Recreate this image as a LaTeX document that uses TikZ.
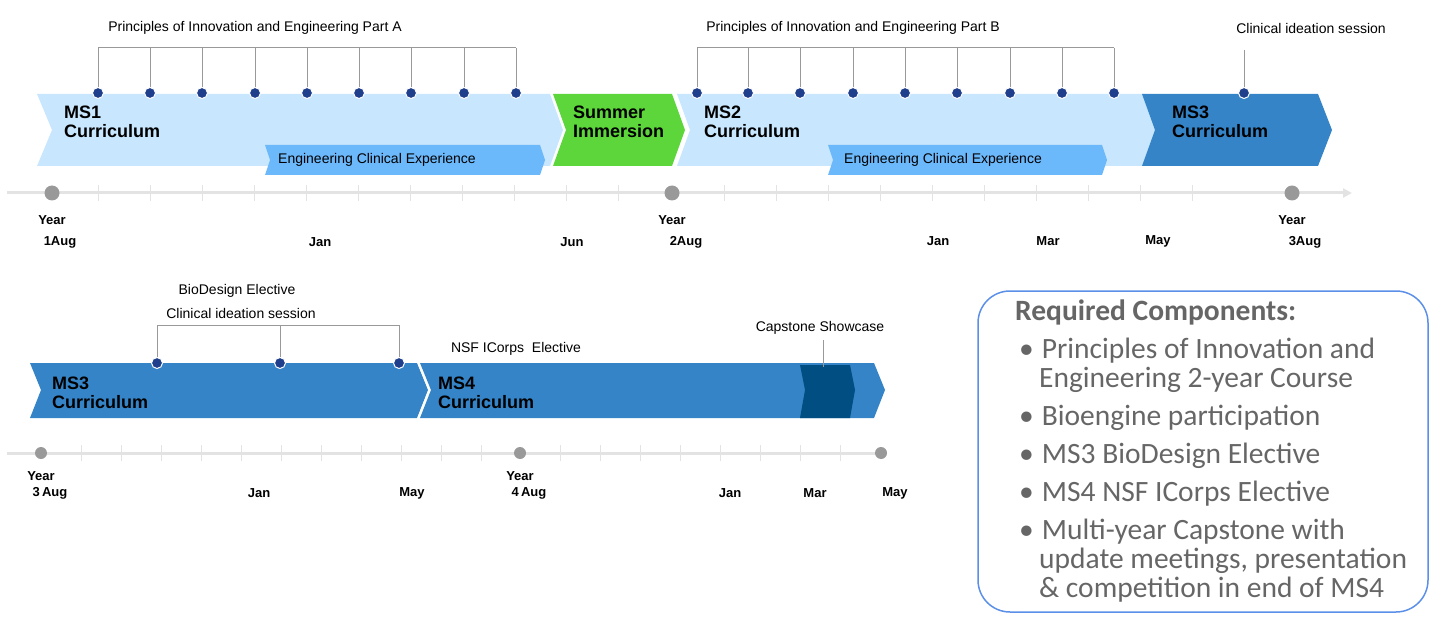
\documentclass[tikz,border=0pt]{standalone}
\usepackage{fontspec}
\setmainfont{Liberation Sans}
\newfontfamily\boxfont{Carlito}
\usetikzlibrary{arrows.meta}
\definecolor{lb}{HTML}{C8E6FD}
\definecolor{mb}{HTML}{6BB8FB}
\definecolor{db}{HTML}{3584C8}
\definecolor{ddb}{HTML}{004E82}
\definecolor{gr}{HTML}{5CD63A}
\definecolor{dotc}{HTML}{1F3F8C}
\definecolor{brk}{HTML}{999999}
\definecolor{tl}{HTML}{E3E3E3}
\definecolor{boxtxt}{HTML}{666666}
\definecolor{boxb}{HTML}{5B8FE8}
\newcommand{\bitem}[1]{\hspace*{4pt}\textbullet\hspace{8pt}#1}
\begin{document}
\begin{tikzpicture}[x=1pt,y=-1pt,
  lbl/.style={font=\fontsize{14}{14}\selectfont},
  mlbl/.style={font=\fontsize{13}{13}\selectfont\bfseries},
  ttl/.style={font=\fontsize{18}{19}\selectfont\bfseries,align=left,anchor=north west,inner sep=0pt},
  sdot/.style={circle,fill=dotc,draw=white,line width=1pt,inner sep=0pt,minimum size=11pt},
  bdot/.style={circle,fill=brk,inner sep=0pt,minimum size=15pt},
  sbdot/.style={circle,fill=brk,inner sep=0pt,minimum size=12pt},
  brack/.style={draw=brk,line width=1pt},
  tick/.style={draw=tl,line width=1pt}]
\useasboundingbox (0,0) rectangle (1440,631);
% top bars
\fill[lb] (37,94) -- (550,94) -- (563,130) -- (550,166) -- (37,166) -- (52,130) -- cycle;
\fill[mb] (265,145) -- (540,145) -- (545,160) -- (540,175) -- (265,175) -- (270,160) -- cycle;
\fill[gr] (553,94) -- (672,94) -- (685,130) -- (672,166) -- (553,166) -- (566,130) -- cycle;
\fill[lb] (677,94) -- (1145,94) -- (1158,130) -- (1145,166) -- (677,166) -- (690,130) -- cycle;
\fill[mb] (828,145) -- (1102,145) -- (1107,160) -- (1102,175) -- (828,175) -- (833,160) -- cycle;
\fill[db] (1142,94) -- (1318,94) -- (1332,130) -- (1318,166) -- (1142,166) -- (1155,130) -- cycle;
\node[ttl] (ms1) at (64,106) {MS1\\Curriculum};
\node[ttl] (sum) at (573,106) {Summer\\Immersion};
\node[ttl] (ms2) at (704,106) {MS2\\Curriculum};
\node[ttl] (ms3a) at (1172,106) {MS3\\Curriculum};
\node[lbl] (ecea) at (377,160) {Engineering Clinical Experience};
\node[lbl] (eceb) at (943,160) {Engineering Clinical Experience};
% brackets A
\draw[brack] (98,48) -- (516,48);
\foreach \x [count=\i] in {98,150,202,255,307,359,411,464,516}{
  \node[sdot] (a\i) at (\x,93) {};
  \draw[brack] (\x,48) -- (a\i);}
\node[lbl] (pa) at (255,28) {Principles of Innovation and Engineering Part A};
\draw[brack] (697,48) -- (1114,48);
\foreach \x [count=\i] in {697,748,800,853,905,957,1010,1062,1114}{
  \node[sdot] (b\i) at (\x,93) {};
  \draw[brack] (\x,48) -- (b\i);}
\node[lbl] (pb) at (853,28) {Principles of Innovation and Engineering Part B};
\node[sdot] (c1) at (1244,93) {};
\draw[brack] (1244,50) -- (c1);
\node[lbl] (cis) at (1311,28) {Clinical ideation session};
% timeline top
\draw[tl,line width=3pt,-{Triangle[length=9pt,width=9pt]}] (7,193) -- (1352,193);
\foreach \x in {98,150,...,620,724,776,...,1240} \draw[tick] (\x,185) -- (\x,201);
\node[bdot] (y1) at (52,193) {};
\node[bdot] (y2) at (672,193) {};
\node[bdot] (y3) at (1292,193) {};
\foreach \x/\y/\t in {52/220/Year,60/242/1Aug,320/242/Jan,572/242/Jun,672/220/Year,686/242/2Aug,938/241/Jan,1048/241/Mar,1158/241/May,1292/220/Year,1305/242/3Aug}
  \node[mlbl] at (\x,\y) {\t};
% bottom bars
\fill[db] (30,363) -- (417,363) -- (428,390) -- (417,418) -- (30,418) -- (41,390) -- cycle;
\fill[db] (420,363) -- (874,363) -- (885,390) -- (874,418) -- (420,418) -- (431,390) -- cycle;
\fill[ddb] (800,365) -- (850,365) -- (855,390) -- (850,418) -- (800,418) -- (805,390) -- cycle;
\draw[white,line width=1pt] (418,363) -- (429,390) -- (418,418);
\node[ttl] (ms3b) at (52,377) {MS3\\Curriculum};
\node[ttl] (ms4) at (438,377) {MS4\\Curriculum};
\draw[brack] (157,325) -- (399,325);
\foreach \x [count=\i] in {157,280,399}{
  \node[sdot] (d\i) at (\x,363) {};
  \draw[brack] (\x,325) -- (d\i);}
\node[lbl] (bio) at (237,291) {BioDesign Elective};
\node[lbl] (cis2) at (241,313) {Clinical ideation session};
\node[lbl] (nsf) at (516,349) {NSF ICorps\ \ Elective};
\node[lbl] (cap) at (820,328) {Capstone Showcase};
\coordinate (capt) at (823,367);
\draw[brack] (823,340) -- (capt);
% timeline bottom
\draw[tl,line width=3pt] (7,453) -- (881,453);
\foreach \x in {81,121,...,481,560,600,...,841} \draw[tick] (\x,445) -- (\x,461);
\node[sbdot] (z1) at (41,453) {};
\node[sbdot] (z2) at (520,453) {};
\node[sbdot] (z3) at (881,453) {};
\foreach \x/\y/\t in {41/476/Year,50/493/3\,Aug,259/493/Jan,412/493/May,520/476/Year,529/493/4\,Aug,730/493/Jan,815/493/Mar,895/493/May}
  \node[mlbl] at (\x,\y) {\t};
% box
\draw[boxb,line width=1.5pt,rounded corners=32pt] (978,291) rectangle (1428,612);
\node[anchor=north west,text=boxtxt,font=\boxfont\fontsize{29.5}{29}\selectfont,align=left,inner sep=0pt] (req) at (1015,300) {%
\textbf{Required Components:}\\[9pt]
\bitem{Principles of Innovation and}\\
\hspace*{24pt}Engineering 2-year Course\\[9pt]
\bitem{Bioengine participation}\\[9pt]
\bitem{MS3 BioDesign Elective}\\[9pt]
\bitem{MS4 NSF ICorps Elective}\\[9pt]
\bitem{Multi-year Capstone with}\\
\hspace*{24pt}update meetings, presentation\\
\hspace*{24pt}\& competition in end of MS4};
\end{tikzpicture}
\end{document}
